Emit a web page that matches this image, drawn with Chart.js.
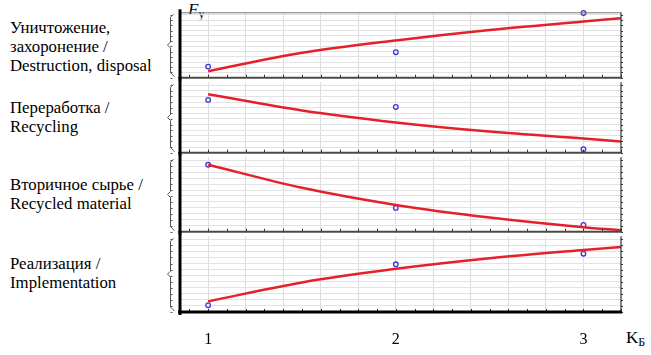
<!DOCTYPE html>
<html><head><meta charset="utf-8">
<script src="https://cdn.jsdelivr.net/npm/chart.js@4.4.1/dist/chart.umd.min.js"></script>
<style>
html,body{margin:0;padding:0;background:#fff;}
#wrap{position:relative;width:651px;height:355px;overflow:hidden;font-family:"Liberation Serif",serif;color:#000;}
canvas{position:absolute;}
.lbl{position:absolute;left:10px;font-family:"Liberation Serif",serif;font-size:16.8px;line-height:19px;white-space:nowrap;}
.ax{position:absolute;font-family:"Liberation Serif",serif;font-size:17px;white-space:nowrap;}
.ax sub{font-size:12px;vertical-align:-3px;line-height:0;}
</style></head><body><div id="wrap">
<div class="lbl" style="top:18px">Уничтожение,<br>захоронение /<br>Destruction, disposal</div>
<div class="lbl" style="top:98px">Переработка /<br>Recycling</div>
<div class="lbl" style="top:175px">Вторичное сырье /<br>Recycled material</div>
<div class="lbl" style="top:254px">Реализация /<br>Implementation</div>
<div class="ax" style="left:188px;top:0px;"><i>F</i><sub>у</sub></div>
<div class="ax" style="left:626px;top:328px;">K<sub>Б</sub></div>
<canvas id="c1" width="490" height="76" style="left:150px;top:7px"></canvas>
<canvas id="c2" width="490" height="81" style="left:150px;top:77px"></canvas>
<canvas id="c3" width="490" height="85" style="left:150px;top:152px"></canvas>
<canvas id="c4" width="490" height="124" style="left:150px;top:231px"></canvas>
</div>
<script>
// Observed K_Б values and panel data (values in % of each panel's height range)
const xPoints = [1, 2, 3];
const curveX = [1, 1.5, 2, 2.5, 3, 3.2];
const xTickVals = [0.9,1,1.1,1.2,1.3,1.4,1.5,1.6,1.7,1.8,1.9,2,2.1,2.2,2.3,2.4,2.5,2.6,2.7,2.8,2.9,3,3.1,3.2];
const xLabelVals = [1, 2, 3];
const yTickVals = [0,8,16,24,32,40,48,56,64,72,80,88,96];

const destructionPoints = [17, 39, 99];
const destructionCurve  = [10, 38, 57, 73, 86, 91];
const recyclingPoints   = [75, 65, 5];
const recyclingCurve    = [83, 60, 43, 30, 20, 16];
const materialPoints    = [90, 32, 9];
const materialCurve     = [90, 59, 36, 19, 6, 2];
const implPoints        = [9, 63, 77];
const implCurve         = [14, 39, 57, 71, 82, 86];

const framePlugin = {
  id: 'frame',
  afterDraw(chart, args, o) {
    const {ctx, chartArea: a, scales} = chart;
    const xs = scales.x, ys = scales.y;
    ctx.save();
    ctx.strokeStyle = '#333'; ctx.lineWidth = 1;
    xTickVals.forEach(v => {
      const px = Math.round(xs.getPixelForValue(v)) + 0.5;
      ctx.beginPath(); ctx.moveTo(px, a.bottom); ctx.lineTo(px, a.bottom - 3); ctx.stroke();
    });
    yTickVals.forEach(v => {
      const py = Math.round(ys.getPixelForValue(v)) + 0.5;
      ctx.beginPath(); ctx.moveTo(a.right, py); ctx.lineTo(a.right + 2, py); ctx.stroke();
    });
    const bx = a.left - 9.5;
    ctx.strokeStyle = '#555'; ctx.lineWidth = 1;
    const mid = (a.top + a.bottom) / 2;
    ctx.beginPath();
    ctx.moveTo(bx + 3, a.top + 2); ctx.lineTo(bx, a.top + 5); ctx.lineTo(bx, mid - 3);
    ctx.lineTo(bx - 3, mid); ctx.lineTo(bx, mid + 3); ctx.lineTo(bx, a.bottom - 5); ctx.lineTo(bx + 4, a.bottom - 1);
    ctx.stroke();
    yTickVals.forEach(v => {
      const py = Math.round(ys.getPixelForValue(v)) + 0.5;
      ctx.beginPath(); ctx.moveTo(bx, py); ctx.lineTo(bx + 2, py); ctx.stroke();
    });
    ctx.strokeStyle = '#333'; ctx.lineWidth = 1.2;
    ctx.beginPath(); ctx.moveTo(a.right, a.top); ctx.lineTo(a.right, a.bottom); ctx.stroke();
    if (o.top) {
      ctx.strokeStyle = '#777'; ctx.lineWidth = 1;
      ctx.beginPath(); ctx.moveTo(a.left, a.top + 0.5); ctx.lineTo(a.right, a.top + 0.5); ctx.stroke();
    }
    ctx.strokeStyle = o.bottomColor; ctx.lineWidth = o.bottomWidth;
    ctx.beginPath(); ctx.moveTo(a.left - 2, a.bottom); ctx.lineTo(a.right + 1, a.bottom); ctx.stroke();
    ctx.strokeStyle = '#000'; ctx.lineWidth = 3;
    ctx.beginPath(); ctx.moveTo(a.left, a.top - 3); ctx.lineTo(a.left, a.bottom + 3); ctx.stroke();
    ctx.restore();
  }
};

function makePanel(id, points, curve, last) {
  return new Chart(document.getElementById(id), {
    data: {
      datasets: [
        { type: 'line', data: curveX.map((x, i) => ({x, y: curve[i]})),
          borderColor: '#e5202b', borderWidth: 2.5, pointRadius: 0,
          cubicInterpolationMode: 'monotone', fill: false },
        { type: 'line', showLine: false, clip: false,
          data: xPoints.map((x, i) => ({x, y: points[i]})),
          pointRadius: 2.3, pointBorderWidth: 1.3,
          pointBorderColor: '#3a3acf', pointBackgroundColor: '#eeeeff' }
      ]
    },
    options: {
      responsive: false, animation: false,
      layout: { padding: { left: 30, right: 19, top: 3, bottom: last ? 0 : 3 } },
      plugins: { legend: { display: false }, tooltip: { enabled: false },
        frame: { top: id === 'c1', bottomColor: last ? '#000' : '#4a4a44', bottomWidth: last ? 3 : 2 } },
      scales: {
        x: {
          type: 'linear', min: 0.85, max: 3.2,
          afterBuildTicks: s => { s.ticks = xTickVals.map(v => ({value: v})); },
          afterFit: s => { s.height = last ? 43 : 0; },
          border: { display: false },
          grid: { drawTicks: false, lineWidth: 1,
            color: c => { const v = c.tick ? c.tick.value : 0; const k = v * 5;
              return (Math.abs(k - Math.round(k)) < 1e-6 && v >= 1 && v <= 3.01) ? '#dcdcdc' : 'rgba(0,0,0,0)'; } },
          ticks: { display: last, autoSkip: false, maxRotation: 0, padding: 18, color: '#000',
            font: { family: '"Liberation Serif", serif', size: 16 },
            callback: v => xLabelVals.includes(v) ? String(v) : '' }
        },
        y: {
          type: 'linear', min: 0, max: 100,
          afterBuildTicks: s => { s.ticks = yTickVals.map(v => ({value: v})); },
          afterFit: s => { s.width = 0; },
          border: { display: false },
          grid: { drawTicks: false, color: '#e2e2e2', lineWidth: 1 },
          ticks: { display: false }
        }
      }
    },
    plugins: [framePlugin]
  });
}

makePanel('c1', destructionPoints, destructionCurve, false);
makePanel('c2', recyclingPoints, recyclingCurve, false);
makePanel('c3', materialPoints, materialCurve, false);
makePanel('c4', implPoints, implCurve, true);
</script></body></html>
